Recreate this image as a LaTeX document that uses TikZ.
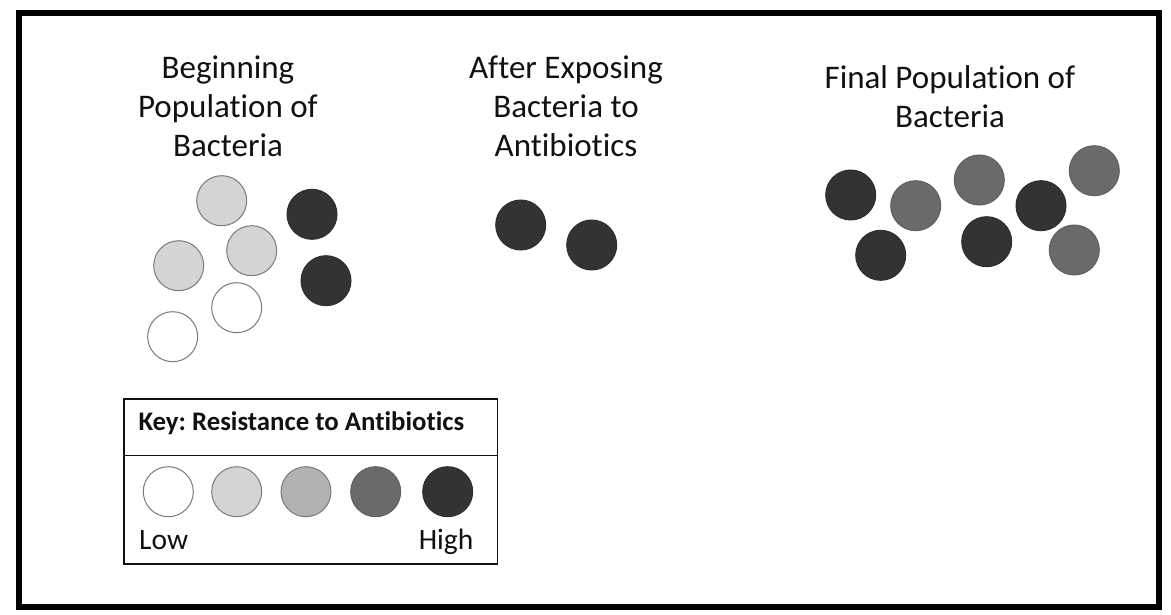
\documentclass[tikz,border=0pt]{standalone}
\usepackage{fontspec}
\setmainfont{Carlito}[Ligatures=NoCommon]
\definecolor{txt}{HTML}{111111}
\definecolor{cwhite}{HTML}{FFFFFF}
\definecolor{clight}{HTML}{D4D4D4}
\definecolor{cmed}{HTML}{B2B2B2}
\definecolor{cgray}{HTML}{6A6A6A}
\definecolor{cdark}{HTML}{333333}
\definecolor{rim}{HTML}{7A7A7A}
\tikzset{
  bact/.style={circle, minimum size=50pt, inner sep=0pt, line width=1pt},
  bwhite/.style={bact, fill=cwhite, draw=rim},
  blight/.style={bact, fill=clight, draw=rim},
  bmed/.style={bact, fill=cmed, draw=rim},
  bgray/.style={bact, fill=cgray, draw=cgray!90!black},
  bdark/.style={bact, fill=cdark, draw=cdark!90!black},
  title/.style={align=center, inner sep=0pt, anchor=north, text=txt,
    font=\fontsize{33}{39}\selectfont},
  keytext/.style={inner sep=0pt, text=txt, font=\fontsize{29.5}{34}\selectfont},
}
\begin{document}
\frenchspacing
\begin{tikzpicture}[x=1pt, y=-1pt]
\useasboundingbox (0,0) rectangle (1171,615);
\fill[white] (0,0) rectangle (1171,615);
% outer frame
\draw[line width=6pt] (19,13) rectangle (1159,607);

% titles
\node[title] (t1) at (228,56) {Beginning\\Population of\\Bacteria};
\node[title] (t2) at (566,56) {After Exposing\\Bacteria to\\Antibiotics};
\node[title] (t3) at (950,65) {Final Population of\\Bacteria};

% beginning population
\node[blight] (a1) at (221.7,200.7) {};
\node[bdark]  (a2) at (312,214.3) {};
\node[blight] (a3) at (251.7,250.7) {};
\node[blight] (a4) at (178.7,265.7) {};
\node[bdark]  (a5) at (326,280.7) {};
\node[bwhite] (a6) at (236.7,307.7) {};
\node[bwhite] (a7) at (172.7,336.7) {};

% after antibiotics
\node[bdark] (b1) at (520.7,225) {};
\node[bdark] (b2) at (591.7,245) {};

% final population
\node[bdark] (c1) at (850.7,195) {};
\node[bgray] (c2) at (915.7,205.7) {};
\node[bdark] (c3) at (880.7,255.3) {};
\node[bgray] (c4) at (979.3,180) {};
\node[bdark] (c5) at (986.7,241.7) {};
\node[bdark] (c6) at (1041,205.7) {};
\node[bgray] (c7) at (1094.3,170.7) {};
\node[bgray] (c8) at (1074.3,250) {};

% key
\draw[line width=1.3pt, draw=txt] (124,399) rectangle (497.7,564);
\draw[line width=1.3pt, draw=txt] (124,455.7) -- (497.7,455.7);
\node[inner sep=0pt, anchor=base west, text=txt, font=\fontsize{26.8}{30}\selectfont\bfseries] (kh) at (138.3,430) {Key: Resistance to Antibiotics};
\node[bwhite] (k1) at (168.3,491.7) {};
\node[blight] (k2) at (236.7,491.7) {};
\node[bmed]   (k3) at (306,491.7) {};
\node[bgray]  (k4) at (375.7,491.7) {};
\node[bdark]  (k5) at (447.7,491.7) {};
\node[keytext, anchor=base west] (lo) at (139,549) {Low};
\node[keytext, anchor=base east] (hi) at (473.5,549) {High};
\end{tikzpicture}
\end{document}
